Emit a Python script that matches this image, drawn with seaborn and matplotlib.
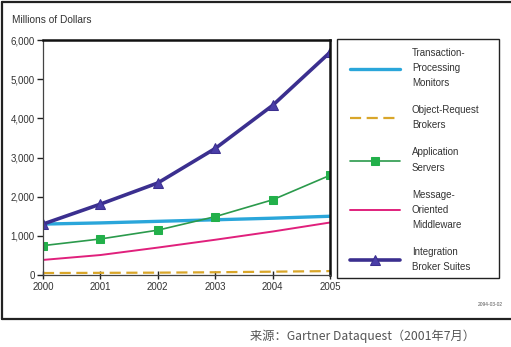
import matplotlib
matplotlib.use("Agg")
import matplotlib.pyplot as plt
from matplotlib.patches import Rectangle
from matplotlib.lines import Line2D
import seaborn as sns
import pandas as pd

sns.set_theme(style="white")
plt.rcParams['font.family'] = ['Liberation Sans', 'DejaVu Sans']

years = [2000, 2001, 2002, 2003, 2004, 2005]
tpm = [1300, 1330, 1370, 1410, 1450, 1500]
orb = [50, 55, 60, 70, 85, 100]
app = [750, 920, 1145, 1490, 1920, 2545]
mom = [385, 510, 700, 900, 1110, 1340]
ibs = [1300, 1810, 2350, 3230, 4330, 5685]
labels = ["Transaction-\nProcessing\nMonitors", "Object-Request\nBrokers",
          "Application\nServers", "Message-\nOriented\nMiddleware",
          "Integration\nBroker Suites"]
yticks = [0, 1000, 2000, 3000, 4000, 5000, 6000]
ytick_labels = ["0", "1,000", "2,000", "3,000", "4,000", "5,000", "6,000"]

W, H = 511, 347
fig = plt.figure(figsize=(W / 100, H / 100), dpi=100)

def fx(x):
    return x / W

def fy(y):
    return 1 - y / H

# outer frame
fig.add_artist(Line2D([fx(2), fx(511)], [fy(2), fy(2)], color="#222222", lw=1.6))
fig.add_artist(Line2D([fx(2), fx(2)], [fy(2), fy(319)], color="#222222", lw=1.6))
fig.add_artist(Line2D([fx(2), fx(511)], [fy(319), fy(319)], color="#222222", lw=1.6))

ax = fig.add_axes([fx(43), fy(275), fx(330) - fx(43), (275 - 40) / H])
ax.set_facecolor("none")

styles = [
    (tpm, dict(color="#2aa6da", lw=2.4)),
    (orb, dict(color="#d9a62a", lw=1.6, dashes=(5, 2.5))),
    (app, dict(color="#2b9a4c", lw=1.2, marker="s", markersize=6,
               markerfacecolor="#22b04a", markeredgecolor="#22b04a")),
    (mom, dict(color="#e0207c", lw=1.4)),
    (ibs, dict(color="#3b2f8f", lw=2.6, marker="^", markersize=7.5,
               markerfacecolor="#4a3ea8", markeredgecolor="#3b2f8f")),
]
handles = []
for (vals, st), lab in zip(styles, labels):
    df = pd.DataFrame({"year": years, "value": vals})
    sns.lineplot(data=df, x="year", y="value", ax=ax, legend=False, **st)
    handles.append(ax.lines[-1])

ax.set_xlim(2000, 2005)
ax.set_ylim(0, 6000)
ax.set_xticks(years)
ax.set_xticklabels([str(y) for y in years])
ax.set_yticks(yticks)
ax.set_yticklabels(ytick_labels)
ax.set_xlabel("")
ax.set_ylabel("")
ax.tick_params(axis="both", labelsize=7, labelcolor="#333333", colors="#222222",
               length=4, width=1, direction="out", pad=2)
ax.tick_params(axis="x", bottom=True, direction="inout", length=6)
ax.tick_params(axis="y", left=True)
for side in ["top", "right"]:
    ax.spines[side].set_color("#111111")
    ax.spines[side].set_linewidth(1.8)
for side in ["left", "bottom"]:
    ax.spines[side].set_color("#444444")
    ax.spines[side].set_linewidth(0.9)

fig.text(fx(12), fy(20), "Millions of Dollars", fontsize=7.3, color="#333333",
         ha="left", va="center")

# legend frame
fig.add_artist(Rectangle((fx(337), fy(278)), fx(499) - fx(337), (278 - 39) / H,
                         fill=False, edgecolor="#222222", lw=1.0,
                         transform=fig.transFigure))
leg = fig.legend(handles, labels, loc="upper left",
                 bbox_to_anchor=(fx(342), fy(40)), frameon=False,
                 fontsize=7, handlelength=5.2, handletextpad=1.2,
                 labelspacing=1.75, borderpad=0.3, labelcolor="#333333")
for t in leg.get_texts():
    t.set_linespacing(1.65)

fig.text(fx(490), fy(304), "2094-03-02", fontsize=3.5, color="#555555",
         ha="center", va="center")

fig.text(fx(362), fy(336), "来源：Gartner Dataquest（2001年7月）", fontsize=8.8,
         color="#555555", ha="center", va="center",
         family=["Noto Sans CJK SC", "DejaVu Sans"])

fig.savefig("out.png", dpi=100)
